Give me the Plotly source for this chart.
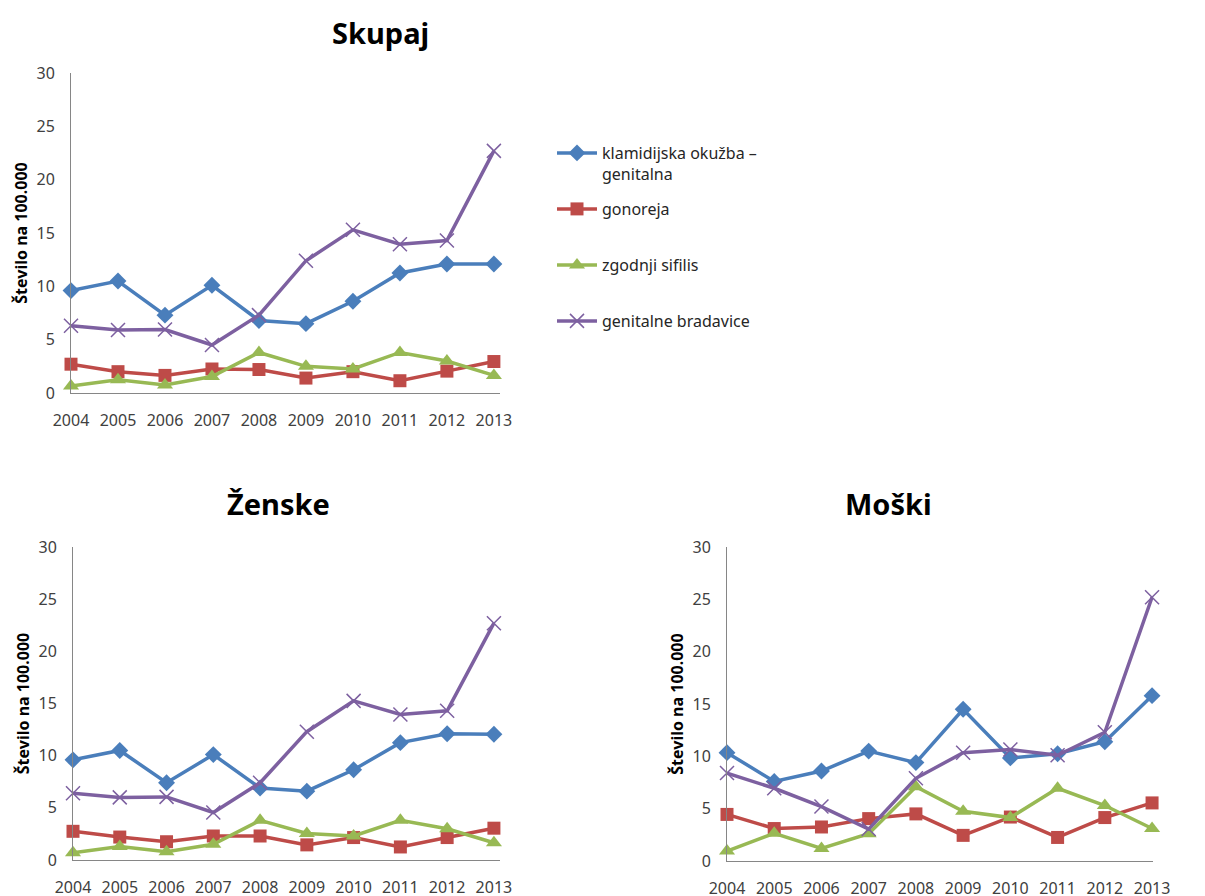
import plotly.graph_objects as go

years = [2004, 2005, 2006, 2007, 2008, 2009, 2010, 2011, 2012, 2013]
series_names = ["klamidijska okužba –<br>genitalna", "gonoreja", "zgodnji sifilis", "genitalne bradavice"]

# Skupaj
skupaj_klamidija = [9.6, 10.5, 7.3, 10.1, 6.8, 6.5, 8.6, 11.25, 12.1, 12.1]
skupaj_gonoreja = [2.7, 2.0, 1.65, 2.25, 2.2, 1.4, 2.0, 1.15, 2.05, 2.95]
skupaj_sifilis = [0.65, 1.25, 0.75, 1.55, 3.8, 2.5, 2.25, 3.8, 3.0, 1.65]
skupaj_bradavice = [6.3, 5.9, 5.95, 4.5, 7.3, 12.4, 15.3, 13.95, 14.3, 22.7]

# Ženske
zenske_klamidija = [9.6, 10.5, 7.4, 10.1, 6.9, 6.6, 8.65, 11.25, 12.1, 12.05]
zenske_gonoreja = [2.75, 2.2, 1.75, 2.3, 2.3, 1.45, 2.15, 1.25, 2.15, 3.05]
zenske_sifilis = [0.7, 1.3, 0.8, 1.5, 3.8, 2.55, 2.3, 3.8, 3.0, 1.65]
zenske_bradavice = [6.4, 6.0, 6.05, 4.55, 7.4, 12.3, 15.25, 13.95, 14.3, 22.7]

# Moški
moski_klamidija = [10.35, 7.6, 8.6, 10.5, 9.4, 14.5, 9.85, 10.25, 11.4, 15.8]
moski_gonoreja = [4.45, 3.1, 3.25, 4.05, 4.5, 2.45, 4.2, 2.25, 4.15, 5.55]
moski_sifilis = [0.95, 2.65, 1.2, 2.6, 7.1, 4.75, 4.15, 6.95, 5.3, 3.1]
moski_bradavice = [8.4, 6.95, 5.2, 3.05, 7.9, 10.35, 10.65, 10.1, 12.3, 25.2]

y_ticks = [0, 5, 10, 15, 20, 25, 30]
y_title = "Število na 100.000"
titles = ["Skupaj", "Ženske", "Moški"]

colors = ["#4A7EBB", "#BE4B48", "#98B954", "#7D60A0"]
symbols = ["diamond", "square", "triangle-up", "x-thin"]
msizes = [13, 13, 14, 14]

# page body has an 8px margin; figure sized to fill the rest of the window
OFF = 8
W, H = 1205 - OFF, 896 - OFF
FONT = "Noto Sans"

def px_x(a, b):
    return [(a - OFF) / W, (b - OFF) / W]

def px_y(top, bottom):
    return [1 - (bottom - OFF) / H, 1 - (top - OFF) / H]

panels = [
    dict(data=[skupaj_klamidija, skupaj_gonoreja, skupaj_sifilis, skupaj_bradavice],
         xd=px_x(71, 500), yd=px_y(73, 393), xr=[2004, 2013.13], legend=True),
    dict(data=[zenske_klamidija, zenske_gonoreja, zenske_sifilis, zenske_bradavice],
         xd=px_x(73, 500), yd=px_y(547, 860), xr=[2004, 2013.13], legend=False),
    dict(data=[moski_klamidija, moski_gonoreja, moski_sifilis, moski_bradavice],
         xd=px_x(727, 1153), yd=px_y(547, 861), xr=[2004, 2013.02], legend=False),
]

legend_ids = ["legend", "legend2", "legend3", "legend4"]
legend_tops = [128, 184, 240, 296]

fig = go.Figure()
layout = {}
for i, p in enumerate(panels):
    suf = "" if i == 0 else str(i + 1)
    for k, vals in enumerate(p["data"]):
        fig.add_trace(go.Scatter(
            x=years, y=vals, name=series_names[k],
            mode="lines+markers",
            line=dict(color=colors[k], width=3.5),
            marker=dict(symbol=symbols[k], size=msizes[k], color=colors[k],
                        line=dict(color=colors[k], width=1.5 if k == 3 else 0)),
            xaxis="x" + suf, yaxis="y" + suf,
            showlegend=p["legend"], legend=legend_ids[k],
            cliponaxis=False,
        ))
    layout["xaxis" + suf] = dict(
        domain=p["xd"], anchor="y" + suf, range=p["xr"], automargin=False,
        tickmode="array", tickvals=years, ticktext=[str(y) for y in years],
        showgrid=False, zeroline=False, showline=True, linecolor="#868686", linewidth=1,
        ticks="", ticklabelstandoff=13,
        tickfont=dict(family=FONT, size=16, color="#404040"), fixedrange=True,
    )
    layout["yaxis" + suf] = dict(
        domain=p["yd"], anchor="x" + suf, range=[0, 30], automargin=False,
        tickmode="array", tickvals=y_ticks,
        showgrid=False, zeroline=False, showline=True, linecolor="#868686", linewidth=1,
        ticks="", ticklabelstandoff=12,
        tickfont=dict(family=FONT, size=16, color="#404040"),
        title=dict(text="<b>" + y_title + "</b>", font=dict(family=FONT, size=16, color="#000000"),
                   standoff=4),
        fixedrange=True,
    )

fig.update_layout(**layout)

title_pos = [(380, 33), (278, 503), (888, 503)]
for t, (cx, cy) in zip(titles, title_pos):
    fig.add_annotation(text="<b>" + t + "</b>", x=(cx - OFF) / W, y=1 - (cy - OFF) / H,
                       xref="paper", yref="paper",
                       showarrow=False, xanchor="center", yanchor="middle",
                       font=dict(family=FONT, size=29, color="#000000"))

leg_common = dict(xanchor="left", yanchor="top", valign="top",
                  font=dict(family=FONT, size=16, color="#262626"),
                  itemwidth=40, bgcolor="rgba(0,0,0,0)")
leg_layout = {}
for lid, top in zip(legend_ids, legend_tops):
    leg_layout[lid] = dict(x=544 / W, y=1 - top / H, **leg_common)

fig.update_layout(
    width=W, height=H, margin=dict(l=0, r=0, t=0, b=0),
    paper_bgcolor="white", plot_bgcolor="white",
    showlegend=True,
    **leg_layout,
)

fig.write_html("out.html")
